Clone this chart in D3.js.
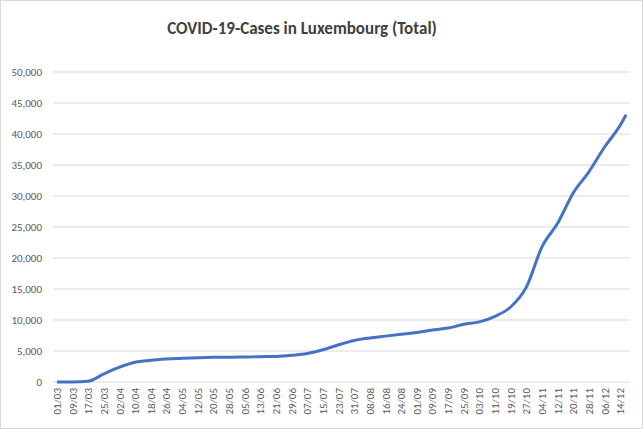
<!DOCTYPE html>
<html><head><meta charset="utf-8">
<script src="https://cdn.jsdelivr.net/npm/d3@7"></script>
<style>body{margin:0;background:#fff}</style>
</head><body><div class="canvas"></div>
<script>
// cumulative cases, read every 8 days from 01/03, plus last point 17/12
const dates = ['01/03','09/03','17/03','25/03','02/04','10/04','18/04','26/04','04/05','12/05','20/05','28/05','05/06','13/06','21/06','29/06','07/07','15/07','23/07','31/07','08/08','16/08','24/08','01/09','09/09','17/09','25/09','03/10','11/10','19/10','27/10','04/11','12/11','20/11','28/11','06/12','14/12','17/12'];
const cases = [0,0,120,1300,2400,3200,3500,3700,3850,3900,3980,4000,4020,4080,4120,4300,4600,5200,6000,6700,7100,7400,7700,8000,8400,8700,9300,9700,10600,12100,15300,21800,25600,30500,33900,37900,41400,43100];
const dayOffsets = [0,8,16,24,32,40,48,56,64,72,80,88,96,104,112,120,128,136,144,152,160,168,176,184,192,200,208,216,224,232,240,248,256,264,272,280,288,291];
const tickLabels = dates.slice(0, 37);
const yTicks = [0,5000,10000,15000,20000,25000,30000,35000,40000,45000,50000];

const dims = { width: 643, height: 429 };
const m = { left: 53, right: 13, top: 72, bottom: 47 };

const svg = d3.select('.canvas').append('svg')
    .attr('width', dims.width).attr('height', dims.height)
    .style('font-family', 'Calibri, Carlito, "Open Sans", sans-serif');

svg.append('rect').attr('x', 0.5).attr('y', 0.5)
    .attr('width', dims.width - 1).attr('height', dims.height - 1)
    .attr('fill', '#fff').attr('stroke', '#d9d9d9');

svg.append('text').attr('x', 302).attr('y', 34)
    .attr('text-anchor', 'middle').attr('font-size', 17).attr('font-weight', 600)
    .attr('fill', '#404040').text('COVID-19-Cases in Luxembourg (Total)');

const x = d3.scaleLinear().domain([-2, 293]).range([m.left, dims.width - m.right]);
const y = d3.scaleLinear().domain([0, 50000]).range([382, m.top]);

// grid
svg.append('g').selectAll('line').data(yTicks.slice(1)).join('line')
    .attr('x1', m.left).attr('x2', dims.width - m.right)
    .attr('y1', d => y(d)).attr('y2', d => y(d))
    .attr('stroke', '#d9d9d9');
svg.append('line').attr('x1', m.left).attr('x2', dims.width - m.right)
    .attr('y1', y(0)).attr('y2', y(0)).attr('stroke', '#d9d9d9');

// y labels
svg.append('g').selectAll('text').data(yTicks).join('text')
    .attr('x', 42).attr('y', d => y(d) + 4)
    .attr('text-anchor', 'end').attr('font-size', 11).attr('fill', '#595959')
    .text(d => d3.format(',')(d));

// x labels (rotated)
svg.append('g').selectAll('text').data(tickLabels).join('text')
    .attr('transform', (d, i) => `translate(${x(dayOffsets[i]) + 4},${y(0) + 6}) rotate(-90)`)
    .attr('text-anchor', 'end').attr('font-size', 11).attr('fill', '#595959')
    .text(d => d);

const line = d3.line().x((d, i) => x(dayOffsets[i])).y(d => y(d)).curve(d3.curveMonotoneX);
svg.append('path').datum(cases)
    .attr('d', line).attr('fill', 'none')
    .attr('stroke', '#4472c4').attr('stroke-width', 3).attr('stroke-linejoin', 'round');
</script>
</body></html>
